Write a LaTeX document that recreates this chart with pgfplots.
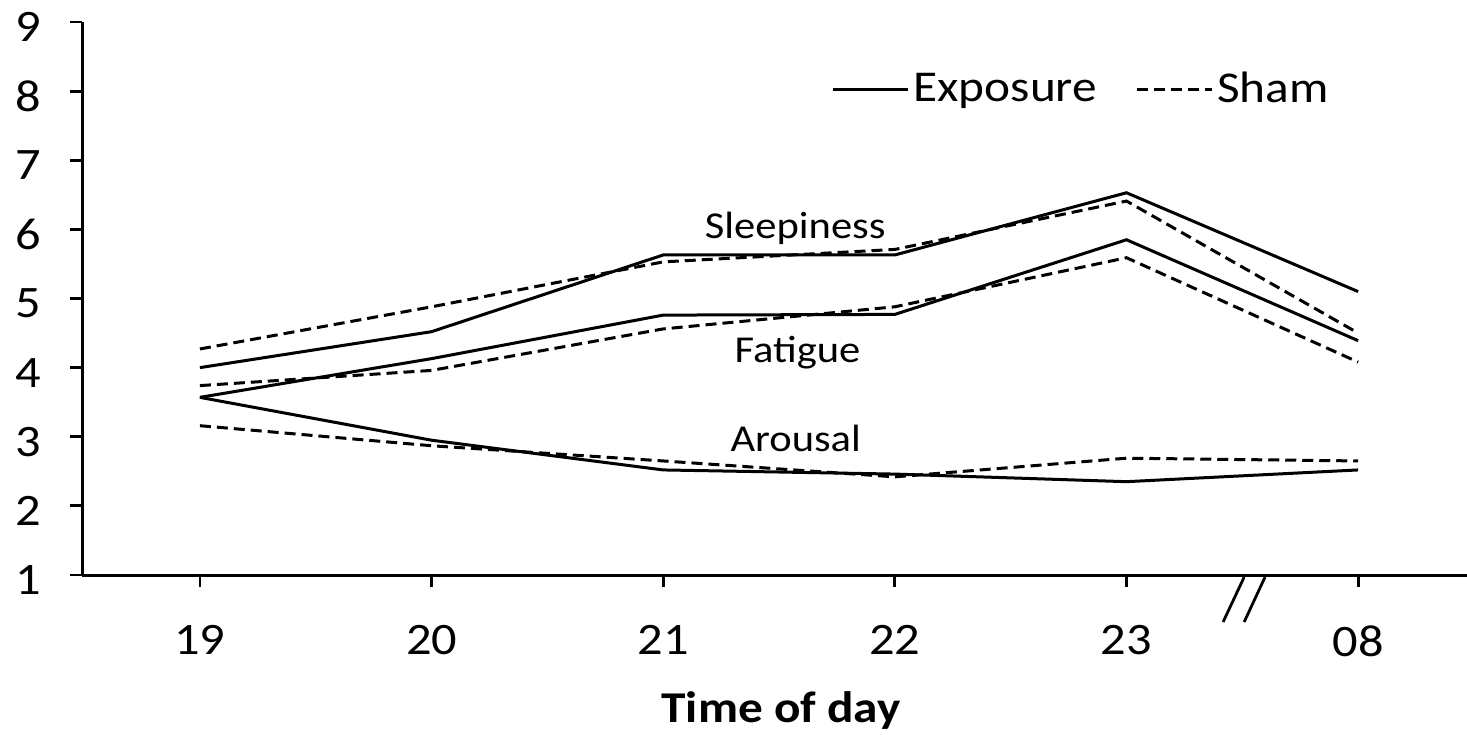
\documentclass[border=0pt]{standalone}
\usepackage{fontspec}
\setmainfont{Carlito}[FakeStretch=1.12]
\usepackage{pgfplots}
\pgfplotsset{compat=1.18}
\begin{document}
\begin{tikzpicture}
\begin{axis}[
  name=ax, at={(0,0)}, anchor=south west,
  scale only axis, width=692.5pt, height=276.5pt,
  xmin=-0.509, xmax=5.47, ymin=1, ymax=9,
  axis x line=bottom, axis y line=left,
  axis line style={-, line width=1.5pt, black},
  tick align=outside, major tick length=6pt,
  tick style={line width=1.4pt, black},
  xtick={0,1,2,3,4,5}, xticklabels={19,20,21,22,23,08},
  ytick={1,2,...,9},
  /pgf/number format/assume math mode=true,
  ticklabel style={font=\fontsize{22.5}{27}\selectfont, inner sep=0pt},
  xticklabel style={anchor=north, yshift=-19pt},
  yticklabel style={anchor=east, xshift=-14.5pt, yshift=-2.5pt},
  xlabel={Time of day},
  xlabel style={font=\bfseries\fontsize{22}{26}\selectfont, inner sep=0pt, anchor=base, at={(axis description cs:0.5047,-0.2676)}},
  clip=false,
  legend columns=2,
  legend image code/.code={\draw[#1] (0pt,0pt) -- (37.5pt,0pt);},
  legend style={draw=none, fill=none, inner sep=0pt, anchor=west, at={(axis cs:2.725,8.03)}, font=\fontsize{22}{26}\selectfont, /tikz/every even column/.append style={column sep=17pt}},
]
% Sleepiness
\addplot[black, solid, line width=1.5pt, mark=none] coordinates {(0,4.00) (1,4.52) (2,5.63) (3,5.63) (4,6.53) (5,5.10)};
\addlegendentry{Exposure}
\addplot[black, line width=1.5pt, mark=none, dash pattern=on 5.5pt off 3pt] coordinates {(0,4.27) (1,4.88) (2,5.53) (3,5.71) (4,6.41) (5,4.50)};
\addlegendentry{Sham}
% Fatigue
\addplot[black, solid, line width=1.5pt, mark=none] coordinates {(0,3.57) (1,4.13) (2,4.76) (3,4.77) (4,5.85) (5,4.39)};
\addplot[black, line width=1.5pt, mark=none, dash pattern=on 5.5pt off 3pt] coordinates {(0,3.74) (1,3.96) (2,4.56) (3,4.88) (4,5.59) (5,4.08)};
% Arousal
\addplot[black, solid, line width=1.5pt, mark=none] coordinates {(0,3.57) (1,2.95) (2,2.52) (3,2.46) (4,2.35) (5,2.52)};
\addplot[black, line width=1.5pt, mark=none, dash pattern=on 5.5pt off 3pt] coordinates {(0,3.16) (1,2.87) (2,2.65) (3,2.42) (4,2.69) (5,2.65)};
\node[anchor=base, inner sep=0pt, font=\fontsize{19}{23}\selectfont] at (axis cs:2.57,5.875) {Sleepiness};
\node[anchor=base, inner sep=0pt, font=\fontsize{19}{23}\selectfont] at (axis cs:2.58,4.08) {Fatigue};
\node[anchor=base, inner sep=0pt, font=\fontsize{19}{23}\selectfont] at (axis cs:2.572,2.78) {Arousal};
% axis break mark
\draw[line width=1.4pt] (axis cs:4.417,0.32) -- (axis cs:4.508,0.97);
\draw[line width=1.4pt] (axis cs:4.508,0.32) -- (axis cs:4.598,0.97);
\end{axis}
\pgfresetboundingbox
\path[use as bounding box] (-41pt,-79.5pt) rectangle (692.5pt,287.5pt);
\end{tikzpicture}
\end{document}
